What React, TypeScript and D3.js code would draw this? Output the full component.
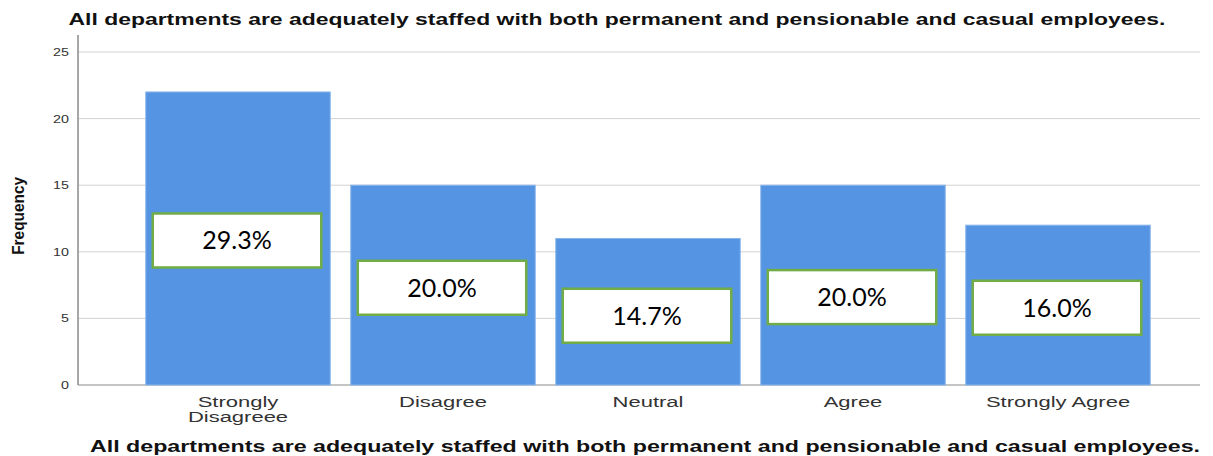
import React from 'react';
import * as d3 from 'd3';

const categories = ['Strongly Disagreee', 'Disagree', 'Neutral', 'Agree', 'Strongly Agree'];
const frequencies = [22, 15, 11, 15, 12];
const percentLabels = ['29.3%', '20.0%', '14.7%', '20.0%', '16.0%'];
// where each label box sits, in frequency units (box centre)
const labelAnchors = [10.85, 7.3, 5.2, 6.6, 5.8];
const yTicks = [0, 5, 10, 15, 20, 25];

const title = 'All departments are adequately staffed with both permanent and pensionable and casual employees.';

const width = 1213;
const height = 456;
const axisX = 78;
const plotRight = 1200;
const plotBottom = 385;

const App = () => {
  const x = d3
    .scaleBand<string>()
    .domain(categories)
    .range([135.5, 1160.5])
    .paddingInner(0.1)
    .paddingOuter(0.05);

  const y = d3.scaleLinear().domain([0, 25]).range([plotBottom, 52]);

  const bw = x.bandwidth();

  return (
    <svg
      width={width}
      height={height}
      style={{ position: 'absolute', left: 0, top: 0, background: '#fff' }}
    >
      <text
        x={617}
        y={25}
        textAnchor="middle"
        fontFamily="Liberation Sans, Arial, sans-serif"
        fontWeight="bold"
        fontSize={16}
        textLength={1097}
        lengthAdjust="spacingAndGlyphs"
        fill="#111"
      >
        {title}
      </text>

      {/* grid */}
      {yTicks.map((t) => (
        <line
          key={t}
          x1={axisX}
          x2={plotRight}
          y1={y(t)}
          y2={y(t)}
          stroke={t === 0 ? '#8a8a8a' : '#d2d2d2'}
          strokeWidth={1}
        />
      ))}
      {yTicks.map((t) => (
        <text
          key={'t' + t}
          x={69}
          y={y(t) + 4}
          textAnchor="end"
          fontFamily="Liberation Sans, Arial, sans-serif"
          fontSize={11}
          fill="#333"
          transform={`translate(${69 * -0.3},0) scale(1.3,1)`}
        >
          {t}
        </text>
      ))}
      <line x1={axisX} x2={axisX} y1={35} y2={plotBottom} stroke="#8a8a8a" strokeWidth={1.5} />

      <text
        transform={`translate(24,${y(12.7)}) rotate(-90)`}
        textAnchor="middle"
        fontFamily="Liberation Sans Narrow, Liberation Sans, Arial, sans-serif"
        fontWeight="bold"
        fontSize={17}
        textLength={78}
        lengthAdjust="spacingAndGlyphs"
        fill="#111"
      >
        Frequency
      </text>

      {/* bars */}
      {categories.map((c, i) => (
        <rect
          key={c}
          x={x(c)}
          y={y(frequencies[i])}
          width={bw}
          height={y(0) - y(frequencies[i])}
          fill="#5594e2"
          stroke="#8bb6ec"
          strokeWidth={1}
        />
      ))}

      {/* percentage boxes */}
      {categories.map((c, i) => {
        const cy = y(labelAnchors[i]);
        return (
          <g key={'l' + c}>
            <rect
              x={(x(c) || 0) + 7}
              y={cy - 27}
              width={bw - 16}
              height={54}
              fill="#fff"
              stroke="#70ad47"
              strokeWidth={2.5}
            />
            <text
              x={(x(c) || 0) + 7 + (bw - 16) / 2}
              y={cy + 9}
              textAnchor="middle"
              fontFamily="Lato, Carlito, Calibri, sans-serif"
              fontSize={25}
              fill="#000"
            >
              {percentLabels[i]}
            </text>
          </g>
        );
      })}

      {/* category labels, stretched wide like the original export */}
      {categories.map((c) => {
        const cx = (x(c) || 0) + bw / 2;
        const lines = c === 'Strongly Disagreee' ? ['Strongly', 'Disagreee'] : [c];
        return (
          <g key={'c' + c} transform={`translate(${cx},0) scale(1.42,1)`}>
            <text
              x={0}
              y={407}
              textAnchor="middle"
              fontFamily="Liberation Sans, Arial, sans-serif"
              fontSize={15.5}
              fill="#333"
            >
              {lines.map((ln, k) => (
                <tspan key={k} x={0} dy={k === 0 ? 0 : 15}>
                  {ln}
                </tspan>
              ))}
            </text>
          </g>
        );
      })}

      <text
        x={645}
        y={452}
        textAnchor="middle"
        fontFamily="Liberation Sans, Arial, sans-serif"
        fontWeight="bold"
        fontSize={16}
        textLength={1110}
        lengthAdjust="spacingAndGlyphs"
        fill="#111"
      >
        {title}
      </text>
    </svg>
  );
};

export default App;
